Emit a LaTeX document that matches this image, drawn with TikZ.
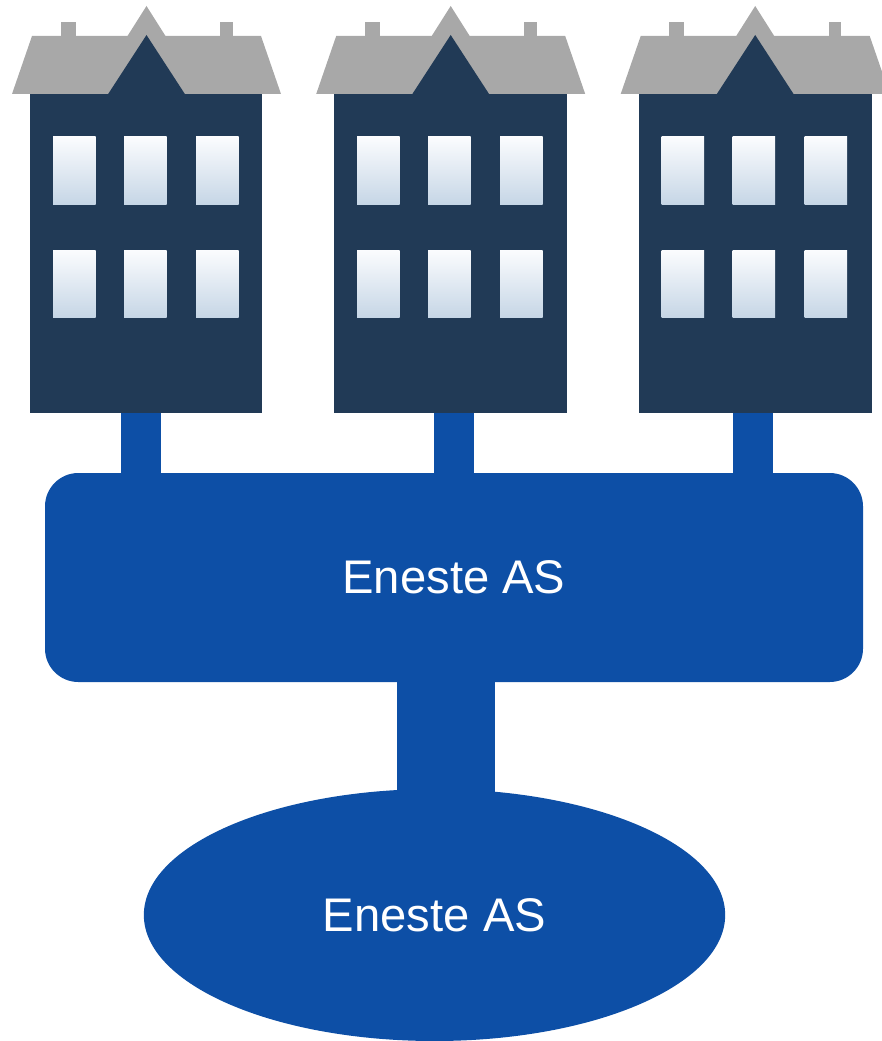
\documentclass[tikz,border=0pt]{standalone}
\usepackage{fontspec}
\setmainfont{Liberation Sans}
\usetikzlibrary{shapes.geometric}
\definecolor{navy}{HTML}{213A56}
\definecolor{roofgrey}{HTML}{A8A8A8}
\definecolor{brandblue}{HTML}{0D4FA6}
\definecolor{wintop}{HTML}{FBFCFE}
\definecolor{winbot}{HTML}{C6D6E6}
\tikzset{
  px/.style={x=0.75pt,y=-0.75pt},
  body/.style={fill=navy,draw=none,inner sep=0pt,outer sep=0pt,minimum width=174.2pt,minimum height=239.6pt},
  roof/.style={fill=roofgrey,draw=none},
  gable/.style={fill=navy,draw=none},
  windowpane/.style={top color=wintop,bottom color=winbot,draw=none},
  conn/.style={draw=brandblue,line width=30pt},
  trunk/.style={draw=brandblue,line width=73.5pt},
  hub/.style={fill=brandblue,draw=none,rounded corners=25pt,inner sep=0pt,outer sep=0pt,minimum width=613.5pt,minimum height=156.75pt},
  base/.style={ellipse,fill=brandblue,draw=none,inner sep=0pt,outer sep=0pt,minimum width=436pt,minimum height=189pt},
  label/.style={text=white,font=\fontsize{35.4pt}{40pt}\selectfont},
  house/.pic={
    \fill[roof] (12,94) -- (32,36) -- (127.5,36) -- (146.5,6) -- (165.5,36) -- (261,36) -- (281,94) -- cycle;
    \fill[roof] (60.5,22) rectangle (75.5,37);
    \fill[roof] (220,22) rectangle (232.5,37);
    \fill[gable] (107.5,95) -- (146.5,35) -- (185.5,95) -- cycle;
    \foreach \wx in {53,124,196}{
      \foreach \wy in {137,250}{
        \path[windowpane] (\wx,\wy) rectangle ++(42.5,67.5);
      }
    }
  }
}
\begin{document}
\begin{tikzpicture}[px]
\useasboundingbox (0,0) rectangle (881,1041);
\node[hub] (hubbox) at (454,577.5) {};
\node[base] (basenode) at (434.5,915) {};
\node[body] (houseA) at (146.2,253.7) {};
\node[body] (houseB) at (450.5,253.7) {};
\node[body] (houseC) at (755.4,253.7) {};
\coordinate (ca) at (141,413);
\coordinate (cb) at (454,413);
\coordinate (cc) at (753,413);
\coordinate (tr) at (446,682);
\coordinate (trb) at (446,800);
\draw[conn] (ca) -- (ca |- hubbox.north);
\draw[conn] (cb) -- (cb |- hubbox.north);
\draw[conn] (cc) -- (cc |- hubbox.north);
\draw[trunk] (tr) -- (trb);
\pic at (0,0) {house};
\pic at (304.2,0) {house};
\pic at (608.7,0) {house};
\node[label] (hubtext) at (hubbox.center) {Eneste AS};
\node[label] (basetext) at (basenode.center) {Eneste AS};
\end{tikzpicture}
\end{document}
